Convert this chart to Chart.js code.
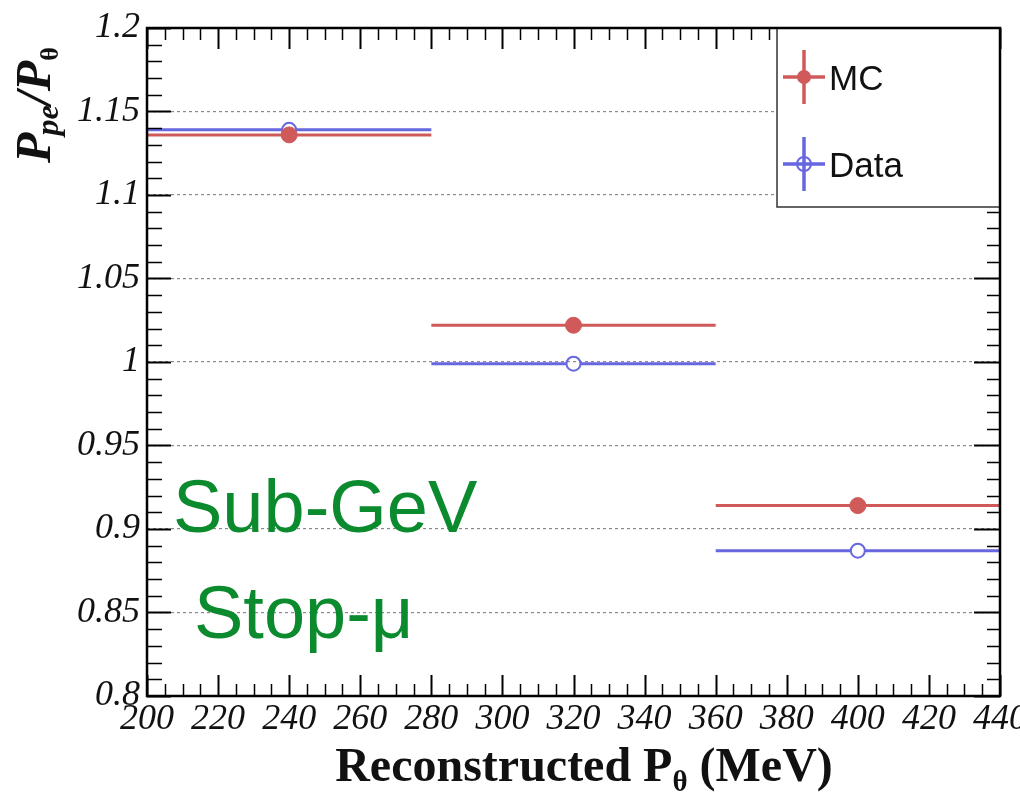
<!DOCTYPE html>
<html>
<head>
<meta charset="utf-8">
<script src="https://cdn.jsdelivr.net/npm/chart.js@4.4.0/dist/chart.umd.min.js"></script>
<style>
  body { margin: 0; background: #fff; }
  #wrap { width: 1020px; height: 803px; position: relative; }
</style>
</head>
<body>
<div id="wrap"><canvas id="ratioChart"></canvas></div>
<script>
// Ppe/Ptheta ratio per reconstructed momentum bin

const binEdges = [200, 280, 360, 440];
const binCenters = [240, 320, 400];
const mcValues = [1.136, 1.022, 0.914];
const dataValues = [1.139, 0.999, 0.887];
const yTickStep = 0.05;
const xTickStep = 20;

const RED = '#d05a5a';
const BLUE = '#6767e0';
const GREEN = '#0b8a2e';

function pts(vals) {
    return binCenters.map((x, i) => ({ x: x, y: vals[i] }));
}

// horizontal bin-width bars, drawn under the markers
const errorBars = {
    id: 'errorBars',
    beforeDatasetsDraw(chart) {
        const ctx = chart.ctx, xs = chart.scales.x, ys = chart.scales.y;
        const ca = chart.chartArea;
        ctx.save();
        ctx.beginPath();
        ctx.rect(ca.left, ca.top, ca.right - ca.left, ca.bottom - ca.top);
        ctx.clip();
        ctx.lineWidth = 3;
        const sets = [[mcValues, RED, 0], [dataValues, BLUE, 7]];
        sets.forEach(([vals, col, gap]) => {
            ctx.strokeStyle = col;
            vals.forEach((v, i) => {
                const y = ys.getPixelForValue(v);
                const x0 = xs.getPixelForValue(binEdges[i]);
                const x1 = xs.getPixelForValue(binEdges[i + 1]);
                const xc = xs.getPixelForValue(binCenters[i]);
                ctx.beginPath();
                ctx.moveTo(x0, y); ctx.lineTo(xc - gap, y);
                ctx.moveTo(xc + gap, y); ctx.lineTo(x1, y);
                ctx.stroke();
            });
        });
        ctx.restore();
    }
};

// frame, inner ticks, titles, legend, labels
const decorations = {
    id: 'decorations',
    afterDraw(chart) {
        const ctx = chart.ctx, xs = chart.scales.x, ys = chart.scales.y;
        const ca = chart.chartArea;
        ctx.save();
        ctx.strokeStyle = '#000';

        // y ticks, left and right
        for (let k = 0; k <= 40; k++) {
            const v = 0.8 + k * 0.01;
            const y = Math.round(ys.getPixelForValue(v)) + 0.5;
            const major = k % 5 === 0;
            ctx.lineWidth = major ? 2 : 1.5;
            ctx.beginPath();
            ctx.moveTo(ca.left, y); ctx.lineTo(ca.left + (major ? 24 : 15), y);
            ctx.moveTo(ca.right, y); ctx.lineTo(ca.right - (major ? 26 : 13), y);
            ctx.stroke();
        }
        // x ticks, bottom and top
        for (let v = 200; v <= 440; v += 5) {
            const x = Math.round(xs.getPixelForValue(v)) + 0.5;
            const major = v % xTickStep === 0;
            ctx.lineWidth = major ? 2 : 1.5;
            ctx.beginPath();
            ctx.moveTo(x, ca.bottom); ctx.lineTo(x, ca.bottom - (major ? 21 : 12));
            ctx.moveTo(x, ca.top); ctx.lineTo(x, ca.top + (major ? 21 : 12));
            ctx.stroke();
        }

        // legend box
        const lx = 777, ly = ca.top, lw = ca.right - 777, lh = 207 - ca.top;
        ctx.fillStyle = '#fff';
        ctx.fillRect(lx, ly, lw, lh);
        ctx.lineWidth = 1.5;
        ctx.strokeStyle = '#333';
        ctx.strokeRect(lx, ly, lw, lh);
        const entries = [['MC', RED, true, 77], ['Data', BLUE, false, 164]];
        entries.forEach(([label, col, filled, cy]) => {
            const cx = 804;
            ctx.strokeStyle = col;
            ctx.lineWidth = 3.5;
            ctx.beginPath();
            ctx.moveTo(cx - 21, cy); ctx.lineTo(cx + 21, cy);
            ctx.moveTo(cx, cy - 27); ctx.lineTo(cx, cy + 27);
            ctx.stroke();
            ctx.beginPath();
            ctx.arc(cx, cy, 7, 0, Math.PI * 2);
            if (filled) { ctx.fillStyle = col; ctx.fill(); }
            else { ctx.lineWidth = 2; ctx.stroke(); }
            ctx.fillStyle = '#111';
            ctx.font = '35px "Liberation Sans", Arial, sans-serif';
            ctx.textAlign = 'left';
            ctx.textBaseline = 'middle';
            ctx.fillText(label, 829, cy + 3);
        });

        // frame
        ctx.strokeStyle = '#000';
        ctx.lineWidth = 2.5;
        ctx.strokeRect(ca.left, ca.top, ca.right - ca.left, ca.bottom - ca.top);

        // sample labels
        ctx.fillStyle = GREEN;
        ctx.font = '74px "Liberation Sans", Arial, sans-serif';
        ctx.textAlign = 'left';
        ctx.textBaseline = 'alphabetic';
        ctx.fillText('Sub-GeV', 173, 532);
        ctx.fillText('Stop-\u03bc', 194, 638);

        // x axis title
        ctx.fillStyle = '#111';
        const bigX = 'bold 48px "Liberation Serif", "Times New Roman", serif';
        const subX = 'bold 29px "Liberation Serif", "Times New Roman", serif';
        const partsX = [['Reconstructed P', bigX, 0], ['\u03b8', subX, 10], [' (MeV)', bigX, 0]];
        let total = 0;
        partsX.forEach(p => { ctx.font = p[1]; total += ctx.measureText(p[0]).width; });
        let x = 584 - total / 2;
        partsX.forEach(p => {
            ctx.font = p[1];
            ctx.fillText(p[0], x, 781 + p[2]);
            x += ctx.measureText(p[0]).width;
        });

        // y axis title (rotated)
        ctx.save();
        ctx.translate(50, 163);
        ctx.rotate(-Math.PI / 2);
        const bigY = 'italic bold 50px "Liberation Serif", "Times New Roman", serif';
        const subY = 'italic bold 32px "Liberation Serif", "Times New Roman", serif';
        const subT = 'bold 26px "Liberation Serif", "Times New Roman", serif';
        const partsY = [['P', bigY, 0], ['pe', subY, 8], ['/P', bigY, 0], ['\u03b8', subT, 8]];
        let px = 0;
        partsY.forEach(p => {
            ctx.font = p[1];
            ctx.fillText(p[0], px, p[2]);
            px += ctx.measureText(p[0]).width + (p[0] === 'P' ? -3 : 0);
        });
        ctx.restore();

        ctx.restore();
    }
};

const ctx = document.getElementById('ratioChart').getContext('2d');
const tickFont = { family: '"Liberation Serif", "Times New Roman", serif', size: 36, style: 'italic' };

new Chart(ctx, {
    type: 'scatter',
    data: {
        datasets: [{
            label: 'MC',
            data: pts(mcValues),
            pointRadius: 8,
            pointBackgroundColor: RED,
            pointBorderColor: RED,
            pointBorderWidth: 1
        }, {
            label: 'Data',
            data: pts(dataValues),
            pointRadius: 7,
            pointBackgroundColor: 'rgba(0,0,0,0)',
            pointBorderColor: BLUE,
            pointBorderWidth: 2
        }]
    },
    options: {
        responsive: true,
        maintainAspectRatio: false,
        animation: false,
        layout: { padding: { left: 0, right: 20, top: 28, bottom: 0 } },
        plugins: { legend: { display: false }, tooltip: { enabled: false } },
        scales: {
            x: {
                type: 'linear',
                min: 200,
                max: 440,
                ticks: { stepSize: xTickStep, font: tickFont, color: '#111', padding: 2, maxRotation: 0 },
                grid: { display: false, drawTicks: false },
                border: { display: false },
                afterFit(s) { s.height = 107; s.paddingLeft = 0; s.paddingRight = 0; }
            },
            y: {
                min: 0.8,
                max: 1.2,
                ticks: {
                    stepSize: yTickStep,
                    font: tickFont,
                    color: '#111',
                    padding: 7,
                    callback: v => String(Number(v.toFixed(2)))
                },
                grid: { color: '#8a8a8a', lineWidth: 1.2, drawTicks: false },
                border: { display: false, dash: [3, 3] },
                afterFit(s) { s.width = 147; s.paddingTop = 0; s.paddingBottom = 0; }
            }
        }
    },
    plugins: [errorBars, decorations]
});
</script>
</body>
</html>
